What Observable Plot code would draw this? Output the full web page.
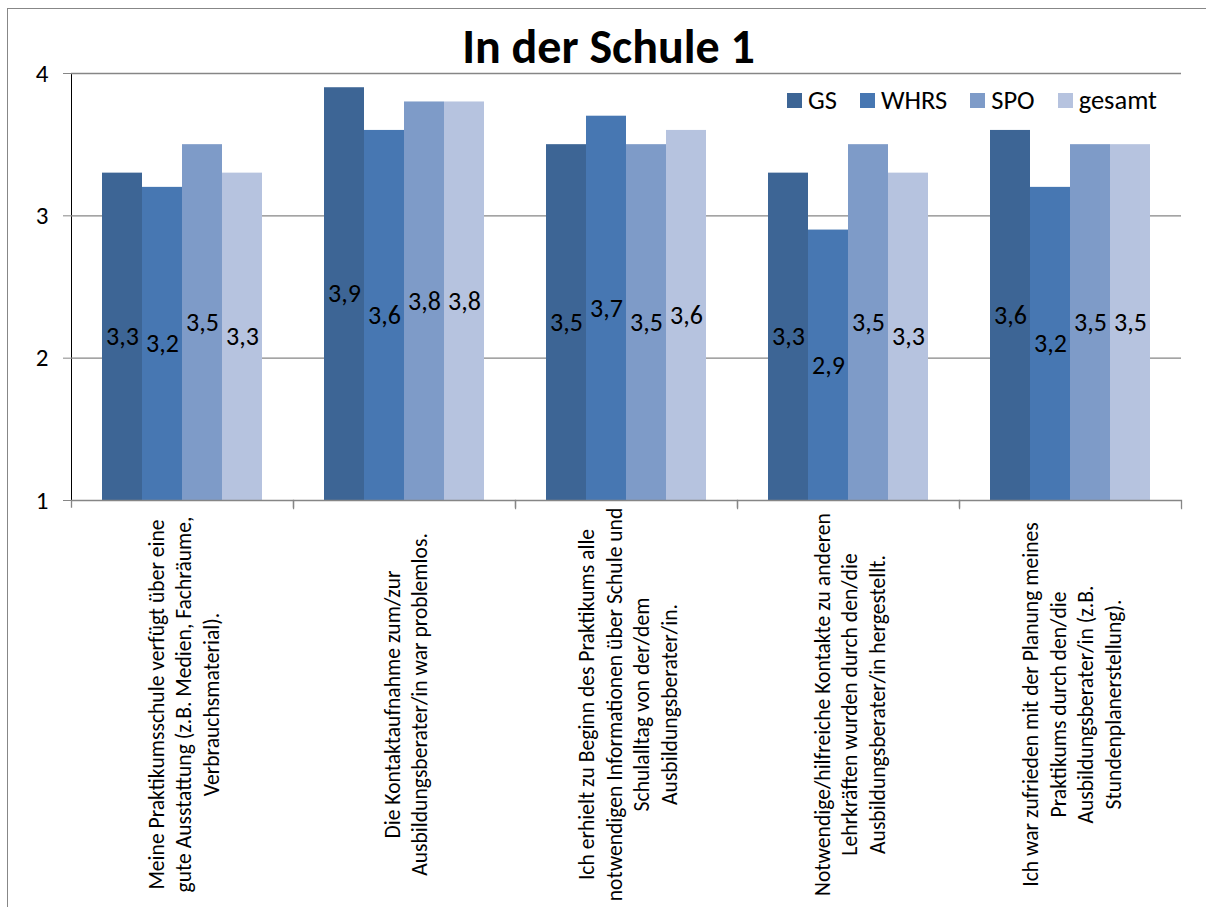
<!DOCTYPE html>
<html>
<head>
<meta charset="utf-8">
<script src="https://cdn.jsdelivr.net/npm/d3@7"></script>
<script src="https://cdn.jsdelivr.net/npm/@observablehq/plot@0.6"></script>
<style>
  html, body { margin: 0; padding: 0; background: #fff; }
  #wrap { position: relative; width: 1213px; height: 907px; overflow: hidden; font-family: Carlito, Lato, sans-serif; color: #000; }
  #border { position: absolute; left: 7px; top: 8px; width: 1199px; height: 1000px; border-left: 1.5px solid #878787; border-top: 1.5px solid #878787; box-sizing: border-box; }
  #title { position: absolute; left: 0; top: 20px; width: 1213px; text-align: center; font-weight: bold; font-size: 48px; line-height: 54px; padding-left: 4px; box-sizing: border-box; }
  #legend { position: absolute; left: 787px; top: 84px; display: flex; align-items: center; font-size: 26.5px; line-height: 32px; }
  #legend .item { display: flex; align-items: center; margin-right: 23px; }
  #legend .sw { width: 15px; height: 15px; margin-right: 6px; }
  #chart { position: absolute; left: 0; top: 0; }
  #chart svg [aria-label="y-axis tick"], #chart svg [aria-label="y-axis tick"] path { stroke: #868686; }
  #chart svg [aria-label="y-axis tick label"] { fill: #000; }
</style>
</head>
<body>
<div id="wrap">
  <div id="border"></div>
  <div id="chart"></div>
  <div id="title"></div>
  <div id="legend"></div>
</div>
<script>
const titleText = "In der Schule 1";
const categories = [
  "Meine Praktikumsschule verfügt über eine\ngute Ausstattung (z.B. Medien, Fachräume,\nVerbrauchsmaterial).",
  "Die Kontaktaufnahme zum/zur\nAusbildungsberater/in war problemlos.",
  "Ich erhielt zu Beginn des Praktikums alle\nnotwendigen Informationen über Schule und\nSchulalltag von der/dem\nAusbildungsberater/in.",
  "Notwendige/hilfreiche Kontakte zu anderen\nLehrkräften wurden durch den/die\nAusbildungsberater/in hergestellt.",
  "Ich war zufrieden mit der Planung meines\nPraktikums durch den/die\nAusbildungsberater/in (z.B.\nStundenplanerstellung)."
];
const series = ["GS", "WHRS", "SPO", "gesamt"];
const GS     = [3.3, 3.9, 3.5, 3.3, 3.6];
const WHRS   = [3.2, 3.6, 3.7, 2.9, 3.2];
const SPO    = [3.5, 3.8, 3.5, 3.5, 3.5];
const gesamt = [3.3, 3.8, 3.6, 3.3, 3.5];
const colors = ["#3D6595", "#4777B2", "#7E9BC8", "#B6C3DF"];
const yTicks = [1, 2, 3, 4];
const gridValues = [2, 3, 4];

const valuesBySeries = {GS, WHRS, SPO, gesamt};
const data = [];
categories.forEach((c, i) => series.forEach(s => data.push({cat: c, series: s, value: valuesBySeries[s][i]})));

const FONT = "Carlito, Lato, sans-serif";
const W = 1213, H = 907, mL = 70, mT = 73, mR = 31, mB = 407;
const facetW = (W - mL - mR) / categories.length;
const frameH = H - mT - mB;
const tickLen = 8;
const fmt = v => d3.format(".1f")(v).replace(".", ",");

const chart = Plot.plot({
  width: W, height: H,
  marginLeft: mL, marginTop: mT, marginRight: mR, marginBottom: mB,
  style: {fontFamily: FONT, fontSize: "25px", color: "#000", background: "transparent", overflow: "visible"},
  fx: {domain: categories, padding: 0, axis: null},
  x: {domain: series, paddingInner: 0, paddingOuter: 0.74, axis: null},
  y: {domain: [1, 4], ticks: yTicks, tickSize: tickLen, tickPadding: 15, tickFormat: d3.format("d"), line: true, label: null},
  color: {domain: series, range: colors},
  marks: [
    Plot.ruleY(gridValues, {stroke: "#868686", strokeWidth: 1.3}),
    Plot.barY(data, {fx: "cat", x: "series", y1: 1, y2: "value", fill: "series"}),
    Plot.frame({stroke: "#868686", strokeWidth: 1.3, insetTop: frameH, insetBottom: -tickLen,
                strokeDasharray: `${facetW + tickLen} ${facetW} ${tickLen}`}),
    Plot.text(data, {fx: "cat", x: "series", y: d => (1 + d.value) / 2, text: d => fmt(d.value), fontSize: 26, fill: "#000"}),
    Plot.text(categories, {fx: d => d, text: d => d, frameAnchor: "bottom", rotate: -90,
                           textAnchor: "middle", lineAnchor: "middle", dy: 204, fontSize: 21.6, lineHeight: 1.28, fill: "#000"})
  ]
});
document.getElementById("chart").appendChild(chart);

document.getElementById("title").textContent = titleText;
const legend = document.getElementById("legend");
series.forEach((s, i) => {
  const item = document.createElement("div");
  item.className = "item";
  const sw = document.createElement("span");
  sw.className = "sw";
  sw.style.background = colors[i];
  const lab = document.createElement("span");
  lab.textContent = s;
  item.appendChild(sw); item.appendChild(lab);
  legend.appendChild(item);
});
</script>
</body>
</html>
